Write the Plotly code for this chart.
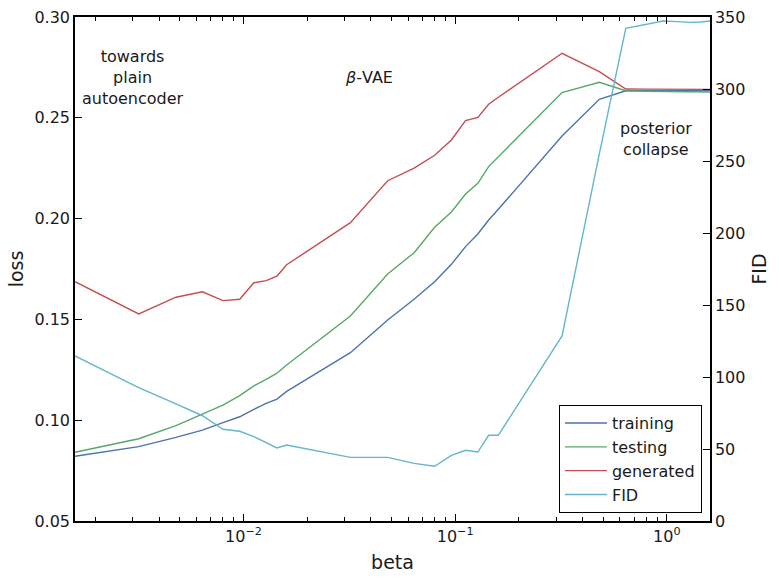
import numpy as np
import plotly.graph_objs as go

# beta values of the sweep
beta = [0.0016, 0.0032, 0.0048, 0.0064, 0.008, 0.0096, 0.0112, 0.0128, 0.0144, 0.016,
        0.032, 0.048, 0.064, 0.08, 0.096, 0.112, 0.128, 0.144, 0.16,
        0.32, 0.48, 0.64, 0.8, 0.96, 1.12, 1.28, 1.44, 1.6]

training = [0.0821, 0.0869, 0.0915, 0.0951, 0.0988, 0.1017, 0.1054, 0.1084, 0.1105, 0.1143,
            0.1335, 0.1497, 0.1600, 0.1687, 0.1773, 0.1861, 0.1924, 0.1993, 0.2046,
            0.2410, 0.2592, 0.2634, 0.2635, 0.2635, 0.2635, 0.2635, 0.2635, 0.2635]
testing = [0.0841, 0.0908, 0.0973, 0.1029, 0.1075, 0.1122, 0.1170, 0.1203, 0.1233, 0.1274,
           0.1517, 0.1725, 0.1831, 0.1957, 0.2033, 0.2122, 0.2175, 0.2258, 0.2307,
           0.2625, 0.2676, 0.2634, 0.2632, 0.2631, 0.2630, 0.2629, 0.2628, 0.2628]
generated = [0.1687, 0.1527, 0.1610, 0.1637, 0.1593, 0.1600, 0.1682, 0.1692, 0.1715, 0.1771,
             0.1980, 0.2188, 0.2250, 0.2314, 0.2390, 0.2486, 0.2502, 0.2567, 0.2602,
             0.2820, 0.2729, 0.2643, 0.2642, 0.2641, 0.2641, 0.2641, 0.2641, 0.2641]
fid = [114.6, 92.6, 81.3, 73.1, 63.7, 62.3, 58.6, 54.4, 50.7, 52.8,
       44.2, 44.2, 40.0, 38.0, 45.6, 49.1, 47.9, 59.5, 59.5,
       128.5, 255.0, 342.1, 344.9, 347.2, 346.8, 346.3, 346.5, 347.2]

series_names = ['training', 'testing', 'generated', 'FID']
colors = ['#4C72B0', '#55A868', '#C44E52', '#64B5CD']

region_bounds = [0.0032, 0.48]
# region labels: (beta position, loss position, text)
region_labels = [
    (0.003, 0.2702, 'towards<br>plain<br>autoencoder'),
    (0.0393, 0.2702, '<i>\u03b2</i>-VAE'),
    (0.89, 0.2397, 'posterior<br>collapse'),
]
x_major = [0.01, 0.1, 1]
x_major_text = ['10<sup>\u22122</sup>', '10<sup>\u22121</sup>', '10<sup>0</sup>']
x_minor = [m * 10.0 ** e for e in (-3, -2, -1) for m in range(2, 10)]

font = dict(family='DejaVu Sans', size=16, color='#1a1a1a')

fig = go.Figure()
for name, ys, c in zip(series_names[:3], [training, testing, generated], colors[:3]):
    fig.add_trace(go.Scatter(x=beta, y=ys, name=name, mode='lines',
                             line=dict(color=c, width=1.4), yaxis='y'))
fig.add_trace(go.Scatter(x=beta, y=fid, name=series_names[3], mode='lines',
                         line=dict(color=colors[3], width=1.4), yaxis='y2'))

# dotted lines between regimes
for b in region_bounds:
    fig.add_shape(type='line', xref='x', yref='paper',
                  x0=np.log10(b), x1=np.log10(b), y0=0, y1=1,
                  line=dict(color='black', width=1.6, dash='dot'))

for bx, ly, txt in region_labels:
    fig.add_annotation(x=np.log10(bx), y=ly, text=txt, showarrow=False,
                       font=font, align='center', xref='x', yref='y')

fig.update_layout(
    width=779, height=580,
    margin=dict(l=75, r=69, t=17, b=59, autoexpand=False),
    paper_bgcolor='white', plot_bgcolor='white',
    font=font,
    showlegend=True,
    legend=dict(x=0.987, y=0.016, xanchor='right', yanchor='bottom',
                bgcolor='white', bordercolor='black', borderwidth=1.2,
                itemwidth=42,
                font=dict(family='DejaVu Sans', size=16, color='#1a1a1a')),
    xaxis=dict(type='log', range=[np.log10(0.0016), np.log10(1.6)],
               tickmode='array', tickvals=x_major, ticktext=x_major_text,
               ticks='inside', ticklen=7, tickwidth=1.2, tickcolor='black',
               minor=dict(tickmode='array', tickvals=x_minor, ticks='inside',
                          ticklen=4, tickwidth=1, tickcolor='black'),
               showline=True, linecolor='black', linewidth=1.5, mirror='ticks',
               showgrid=False, zeroline=False, automargin=False,
               title=dict(text='beta', standoff=11)),
    yaxis=dict(range=[0.05, 0.30], dtick=0.05, tickformat='.2f',
               ticks='inside', ticklen=7, tickwidth=1.2, tickcolor='black',
               showline=True, linecolor='black', linewidth=1.5,
               showgrid=False, zeroline=False, automargin=False,
               title=dict(text='loss', standoff=6)),
    yaxis2=dict(range=[0, 350], dtick=50, overlaying='y', side='right',
                ticks='inside', ticklen=7, tickwidth=1.2, tickcolor='black',
                showline=True, linecolor='black', linewidth=1.5,
                showgrid=False, zeroline=False, automargin=False,
                title=dict(text='FID', standoff=8)),
)

fig.write_html('out.html', config={'displayModeBar': False},
               post_script="document.body.style.margin='0';")
